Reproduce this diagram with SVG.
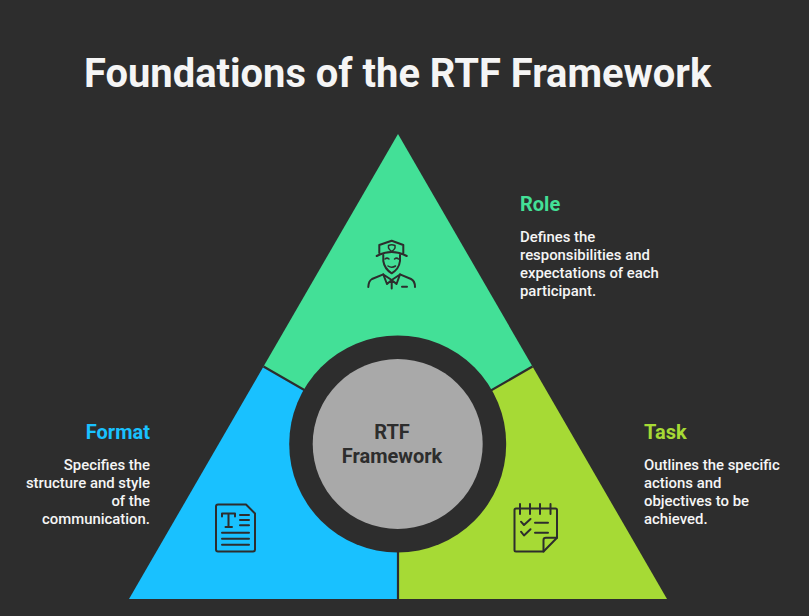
<svg xmlns="http://www.w3.org/2000/svg" width="809" height="616" viewBox="0 0 809 616">
<style>
text{font-family:Roboto,"Liberation Sans",sans-serif}
.title{font-size:39.9px;font-weight:700;fill:#f5f5f5}
.head{font-size:20px;font-weight:700}
.body{font-size:14.9px;font-weight:500;fill:#f5f5f5}
.center{font-size:20px;font-weight:700;fill:#2d2d2d;text-anchor:middle}
.end{text-anchor:end}
.div{stroke:#2d2d2d;stroke-width:2.2;fill:none}
.ic{fill:none;stroke:#2d2d2d;stroke-width:2;stroke-linecap:round;stroke-linejoin:round}
</style>
<rect width="809" height="616" fill="#2d2d2d"/>
<text class="title" x="84" y="87">Foundations of the RTF Framework</text>
<g id="node-role">
<polygon points="398,134 532.5,366.5 398,444 263.5,366.5" fill="#43e097"/>
<g class="ic">
<path d="M379.300 253 V245 L391.700 240.700 L403.300 245 V253"/>
<path d="M376.700 256 Q391.700 248 406.700 256"/>
<path d="M388.500 245.500 Q391.700 244 395 245.500 V248 Q394 250 391.700 251.500 Q389.500 250 388.500 248Z" stroke-width="1.500"/>
<path d="M383.300 255 V261 Q384.500 269 391.700 273.300 Q399 269 400 261 V255"/>
<path d="M385 259 q2 -1.800 4 0 M394.500 259 q2 -1.800 4 0 M388 266 q3.700 2.500 7.500 0" stroke-width="1.500"/>
<path d="M383.300 274.300 L372 279 Q368.500 281 368.300 287 M400 274.300 L411 279 Q415 281 415 287"/>
<path d="M383.300 274.500 L391.700 280 L387 284 Z M400 274.500 L391.700 280 L396.500 284 Z M391.700 280 V288.500"/>
<path d="M402 286.700 h5"/>
</g>
<text class="head" x="520" y="211" fill="#43e097">Role</text>
<text class="body"><tspan x="520" y="242">Defines the</tspan><tspan x="520" y="260">responsibilities and</tspan><tspan x="520" y="278">expectations of each</tspan><tspan x="520" y="296">participant.</tspan></text>
</g>
<g id="node-format">
<polygon points="263.500,366.500 398,444 398,599 129,599" fill="#19c1ff"/>
<g class="ic">
<path d="M218 504.500 H246 L255 513.500 V549.500 Q255 551.500 253 551.500 H218 Q216 551.500 216 549.500 V506.500 Q216 504.500 218 504.500Z"/>
<path d="M222 516.500 V513.500 H235 V516.500 M228.500 513.500 V527 M225.500 527 H232"/>
<path d="M240 515 H249 M240 520 H249 M240 525.300 H249 M222 532.700 H249 M222 538.700 H249 M222 544.700 H249"/>
</g>
<text class="head end" x="150" y="439" fill="#19c1ff">Format</text>
<text class="body end"><tspan x="150" y="470">Specifies the</tspan><tspan x="150" y="488">structure and style</tspan><tspan x="150" y="506">of the</tspan><tspan x="150" y="524">communication.</tspan></text>
</g>
<g id="node-task">
<polygon points="532.500,366.500 667,599 398,599 398,444" fill="#a6da35"/>
<g class="ic">
<path d="M543.500 551.500 H516 Q514.500 551.500 514.500 550 V510 Q514.500 508.500 516 508.500 H555.500 Q557 508.500 557 510 V537.700 Z"/>
<path d="M520 504 V514 M530 504 V514 M540 504 V514 M550.500 504 V514"/>
<path d="M543.500 551.500 V540 Q543.500 537.700 546 537.700 H557"/>
<path d="M521 521.700 L524 525 L530.500 519 M521 531.700 L524 535.500 L530.500 529.300 M535 522.700 H548 M535 532.700 H548"/>
</g>
<text class="head" x="644" y="439" fill="#a6da35">Task</text>
<text class="body"><tspan x="644" y="470">Outlines the specific</tspan><tspan x="644" y="488">actions and</tspan><tspan x="644" y="506">objectives to be</tspan><tspan x="644" y="524">achieved.</tspan></text>
</g>
<g id="connectors">
<path class="div" d="M263.500 366.500 L398 444 L532.500 366.500 M398 444 V599"/>
</g>
<g id="node-center">
<circle cx="397.700" cy="444" r="108.500" fill="#2d2d2d"/>
<circle cx="397.700" cy="444" r="85" fill="#a9a9a9"/>
<text class="center"><tspan x="392" y="439">RTF</tspan><tspan x="392" y="463">Framework</tspan></text>
</g>
</svg>
